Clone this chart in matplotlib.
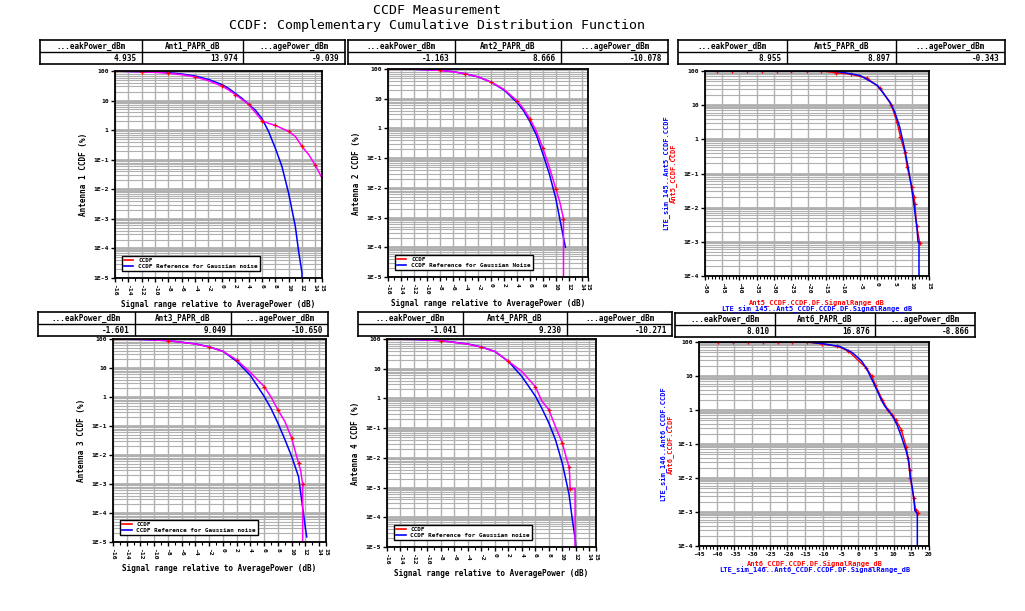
import numpy as np
import matplotlib
matplotlib.use('Agg')
import matplotlib.pyplot as plt
from matplotlib.lines import Line2D
from matplotlib.ticker import NullFormatter, FixedLocator

# ============================================================
# data (x in dB, y in %)
# ============================================================
# Antenna 1
ref1_x = [-16, -14, -12, -10, -8, -6, -4, -2, 0, 1, 2, 3, 4, 5, 6, 7, 7.5, 8, 9, 10, 11, 11.5, 12, 12]
ref1_y = [99.5, 97, 95, 92, 88, 79, 68, 52, 35, 26, 17.6, 12, 7.5, 4.8, 2.5, 0.9, 0.47, 0.25, 0.059, 0.0074, 5.6e-4, 8e-5, 1.5e-5, 1e-5]
ccdf1_x = [-16, -14, -12, -10, -8, -6, -4, -2, 0, 1, 2, 3, 4, 5, 6, 7, 8, 9, 10, 11, 12, 13, 14, 15]
ccdf1_y = [99, 97, 94, 90, 84, 75, 63, 47, 31, 23, 16, 11, 7.5, 4.0, 2.1, 1.7, 1.45, 1.15, 0.9, 0.62, 0.28, 0.15, 0.065, 0.024]

# Antenna 2
ref2_x = [-16, -12, -8, -6, -4, -2, 0, 2, 4, 5, 6, 7, 8, 9, 10, 11, 11.5]
ref2_y = [99.8, 98, 90, 82, 69, 54, 36, 19.5, 7.5, 4.0, 1.7, 0.6, 0.14, 0.03, 0.0045, 3.5e-4, 1e-4]
ccdf2_x = [-16, -12, -8, -6, -4, -2, 0, 2, 4, 5, 6, 7, 8, 9, 10, 10.6, 11.2, 11.2]
ccdf2_y = [99.8, 98, 90, 81, 69, 54, 36, 20.5, 8.5, 4.6, 2.1, 0.8, 0.22, 0.05, 0.0095, 0.0035, 0.00093, 1e-5]

# Antenna 3
ref4_x = [-16, -12, -8, -4, -2, 0, 2, 4, 6, 7, 8, 9, 10, 11, 12, 12.2]
ref4_y = [99.5, 97, 88, 68, 54, 37.6, 17, 5.5, 1.05, 0.4, 0.126, 0.035, 0.009, 0.0018, 3e-5, 1.5e-5]
ccdf4_x = [-16, -12, -8, -4, -2, 0, 2, 4, 6, 7, 8, 9, 10, 10.5, 11, 11.3, 11.6, 11.6]
ccdf4_y = [99.5, 97, 88, 67, 53, 37.6, 19, 7, 2.3, 1.0, 0.36, 0.145, 0.039, 0.014, 0.0053, 0.003, 0.001, 1e-5]

# Antenna 4
ref5_x = [-16, -12, -8, -4, -2, 0, 2, 4, 6, 7, 8, 9, 10, 11, 11.5, 11.9, 12]
ref5_y = [99.5, 97, 88, 68, 54, 38, 17.8, 5.5, 1.2, 0.45, 0.15, 0.04, 0.0066, 6e-4, 8e-5, 2e-5, 1e-5]
ccdf5_x = [-16, -12, -8, -4, -2, 0, 2, 4, 6, 7, 8, 9, 10, 10.6, 11, 11.1, 11.15, 11.9, 11.9]
ccdf5_y = [99.5, 97, 88, 67, 53, 38, 17.8, 8.1, 2.5, 0.8, 0.42, 0.11, 0.032, 0.01, 0.005, 0.0026, 0.00093, 0.00093, 1e-5]

# Antenna 5 (simulation vs measurement)
sim3_x = [-50, -14, -12, -10, -5, 0, 3.6, 5, 6.5, 8, 8.9, 9.9, 10.6, 11.2, 11.5, 11.8, 12.1, 12.1]
sim3_y = [100, 100, 97, 91, 74, 38, 12.6, 6.5, 2.3, 0.48, 0.16, 0.041, 0.013, 0.0043, 0.0028, 0.001, 0.001, 1e-4]
meas3_x = [-46.6, -42.3, -37.9, -33.6, -29.2, -24.9, -20.5, -16.2, -12.0, -7.5, -2.9, 0.9, 4.1, 5.7, 6.7, 7.97, 8.7, 10.1, 10.7, 10.9, 11.4, 12.3]
meas3_y = [100, 100, 100, 100, 100, 100, 100, 100, 89, 80, 61, 31, 10, 3.2, 1.19, 0.43, 0.15, 0.039, 0.02, 0.0126, 0.003, 0.00095]

# Antenna 6 (simulation vs measurement)
sim6_x = [-45, -14.2, -10, -5.2, -1.7, 0.9, 2.3, 4.6, 6.5, 7.5, 8.4, 9.8, 11.0, 12.2, 13.6, 14.3, 14.7, 15.3, 15.8, 16.0, 16.7, 16.7]
sim6_y = [100, 100, 89, 74, 49, 28, 17, 5.5, 2.0, 1.3, 1.0, 0.64, 0.36, 0.166, 0.06, 0.03, 0.012, 0.005, 0.002, 0.0011, 0.0009, 1e-4]
meas6_x = [-39.6, -35.4, -31.2, -26.9, -22.7, -18.6, -14.4, -10.1, -5.9, -2.9, 2.3, 3.9, 4.8, 6.8, 8.4, 9.6, 10.6, 12.2, 13.6, 14.1, 14.5, 14.7, 15.7, 16.2, 16.9]
meas6_y = [100, 100, 100, 100, 100, 100, 100, 87, 74.5, 55.6, 17, 9.7, 5.5, 2.0, 1.0, 0.72, 0.51, 0.26, 0.079, 0.038, 0.017, 0.01, 0.0026, 0.00114, 0.00091]

# tables
tab_headers = [
    ['...eakPower_dBm', 'Ant1_PAPR_dB', '...agePower_dBm'],
    ['...eakPower_dBm', 'Ant2_PAPR_dB', '...agePower_dBm'],
    ['...eakPower_dBm', 'Ant5_PAPR_dB', '...agePower_dBm'],
    ['...eakPower_dBm', 'Ant3_PAPR_dB', '...agePower_dBm'],
    ['...eakPower_dBm', 'Ant4_PAPR_dB', '...agePower_dBm'],
    ['...eakPower_dBm', 'Ant6_PAPR_dB', '...agePower_dBm'],
]
tab_values = [
    ['4.935', '13.974', '-9.039'],
    ['-1.163', '8.666', '-10.078'],
    ['8.955', '8.897', '-0.343'],
    ['-1.601', '9.049', '-10.650'],
    ['-1.041', '9.230', '-10.271'],
    ['8.010', '16.876', '-8.866'],
]

# ============================================================
# layout helpers (pixel boxes in a 1025x611 figure)
# ============================================================
W, H = 1025, 611
FONT = 'DejaVu Sans Mono'
GRID = '#b0b0b0'
MAG = '#ff00ff'
RED = '#ff0000'
BLUE = '#0000ff'

fig = plt.figure(figsize=(W / 100, H / 100), dpi=100)


def fbox(l, t, r, b):
    return [l / W, 1 - b / H, (r - l) / W, (b - t) / H]


def draw_table(box, headers, values):
    tax = fig.add_axes(fbox(*box))
    tax.set_xlim(0, 3)
    tax.set_ylim(0, 2)
    tax.set_xticks([])
    tax.set_yticks([])
    for s in tax.spines.values():
        s.set_linewidth(1.2)
    tax.axhline(1, color='black', lw=1)
    for i in (1, 2):
        tax.axvline(i, color='black', lw=1)
    for i, (h, v) in enumerate(zip(headers, values)):
        tax.text(i + 0.5, 1.45, h, ha='center', va='center', fontsize=5.5,
                 family=FONT, weight='bold')
        tax.text(i + 0.95, 0.45, v, ha='right', va='center', fontsize=5.5,
                 family=FONT, weight='bold')


def decade_labels(lo):
    labs = []
    for e in range(lo, 3):
        if e == 2:
            labs.append('100')
        elif e == 1:
            labs.append('10')
        elif e == 0:
            labs.append('1')
        else:
            labs.append('1E%d' % e)
    return labs


def setup_axes(box, xlim, xticks, ylo, rotate=True):
    ax = fig.add_axes(fbox(*box))
    ax.set_yscale('log')
    ax.set_xlim(*xlim)
    ax.set_ylim(10.0 ** ylo, 100)
    dec = [10.0 ** e for e in range(ylo, 3)]
    ax.yaxis.set_major_locator(FixedLocator(dec))
    ax.set_yticklabels(decade_labels(ylo))
    minors = [m * 10.0 ** e for e in range(ylo, 2) for m in range(2, 10)]
    ax.yaxis.set_minor_locator(FixedLocator(minors))
    ax.yaxis.set_minor_formatter(NullFormatter())
    ax.set_xticks(xticks)
    ax.set_xticklabels([str(t) for t in xticks], rotation=-90 if rotate else 0)
    ax.set_xticks(np.arange(xlim[0], xlim[1] + 1, 1), minor=True)
    ax.grid(True, which='major', axis='y', color=GRID, lw=2.0)
    ax.grid(True, which='minor', axis='y', color=GRID, lw=0.8)
    ax.grid(True, which='major', axis='x', color=GRID, lw=1.0)
    ax.set_axisbelow(True)
    for s in ax.spines.values():
        s.set_linewidth(1.3)
    ax.tick_params(which='major', length=3, width=1, labelsize=4.6, pad=1.5)
    ax.tick_params(which='minor', length=2, width=0.8)
    ax.tick_params(axis='y', which='minor', length=0)
    for lab in ax.get_xticklabels() + ax.get_yticklabels():
        lab.set_family(FONT)
        lab.set_weight('bold')
    return ax


def ccdf_panel(box, ref_x, ref_y, c_x, c_y, ylabel, legend_ref):
    ticks = list(range(-16, 15, 2)) + [15]
    ax = setup_axes(box, (-16, 15), ticks, -5)
    ax.plot(ref_x, ref_y, color=BLUE, lw=1.1)
    ax.plot(c_x, c_y, color=MAG, lw=1.1)
    ax.plot(c_x, c_y, '+', color=RED, ms=3.5, mew=0.9, markevery=2)
    ax.set_xlabel('Signal range relative to AveragePower (dB)', fontsize=5.5,
                  family=FONT, weight='bold', labelpad=3)
    ax.set_ylabel(ylabel, fontsize=5.5, family=FONT, weight='bold', labelpad=4)
    handles = [Line2D([], [], color=RED, lw=1.2), Line2D([], [], color=BLUE, lw=1.2)]
    leg = ax.legend(handles, ['CCDF', legend_ref], loc='lower left',
                    bbox_to_anchor=(0.02, 0.02), fancybox=False, edgecolor='black',
                    framealpha=1, handlelength=1.6, borderpad=0.3, labelspacing=0.2,
                    prop={'family': FONT, 'size': 4.3, 'weight': 'bold'})
    leg.get_frame().set_linewidth(1.0)
    return ax


def sim_panel(box, xlim, sim_x, sim_y, m_x, m_y, rotate, ant, sim_name, ylab_pos, xlab_pos):
    ticks = list(range(xlim[0], xlim[1] + 1, 5))
    ax = setup_axes(box, xlim, ticks, -4, rotate=rotate)
    ax.plot(m_x, m_y, color=RED, lw=1.0)
    ax.plot(m_x, m_y, '+', color=RED, ms=3.5, mew=0.9)
    ax.plot(sim_x, sim_y, color=BLUE, lw=1.1)
    yx, yy = ylab_pos
    fig.text(yx / W, 1 - yy / H, sim_name + '..' + ant + '_CCDF.CCDF', color=BLUE,
             rotation=90, ha='center', va='center', fontsize=5, family=FONT, weight='bold')
    fig.text((yx + 7) / W, 1 - yy / H, ant + '_CCDF.CCDF', color=RED,
             rotation=90, ha='center', va='center', fontsize=5, family=FONT, weight='bold')
    xx, xy = xlab_pos
    fig.text(xx / W, 1 - xy / H, ant + '_CCDF.CCDF.DF.SignalRange_dB', color=RED,
             ha='center', va='center', fontsize=5, family=FONT, weight='bold')
    fig.text(xx / W, 1 - (xy + 6) / H, sim_name + '..' + ant + '_CCDF.CCDF.DF.SignalRange_dB',
             color=BLUE, ha='center', va='center', fontsize=5, family=FONT, weight='bold')
    return ax


# ============================================================
# title
# ============================================================
fig.text(437 / W, 1 - 11 / H, 'CCDF Measurement', ha='center', va='center',
         fontsize=9.5, family=FONT)
fig.text(437 / W, 1 - 25 / H, 'CCDF: Complementary Cumulative Distribution Function',
         ha='center', va='center', fontsize=9.5, family=FONT)

# ============================================================
# tables
# ============================================================
table_boxes = [(40, 40, 345, 64), (348, 40, 668, 64), (678, 40, 1005, 64),
               (38, 312, 328, 336), (358, 312, 672, 336), (675, 313, 975, 337)]
for box, hd, vl in zip(table_boxes, tab_headers, tab_values):
    draw_table(box, hd, vl)

# ============================================================
# panels
# ============================================================
ccdf_panel((115, 71, 322, 278), ref1_x, ref1_y, ccdf1_x, ccdf1_y,
           'Antenna 1 CCDF (%)', 'CCDF Reference for Gaussian noise')
ccdf_panel((388, 69, 588, 277), ref2_x, ref2_y, ccdf2_x, ccdf2_y,
           'Antenna 2 CCDF (%)', 'CCDF Reference for Gaussian Noise')
ccdf_panel((113, 339, 326, 542), ref4_x, ref4_y, ccdf4_x, ccdf4_y,
           'Antenna 3 CCDF (%)', 'CCDF Reference for Gaussian noise')
ccdf_panel((387, 339, 596, 547), ref5_x, ref5_y, ccdf5_x, ccdf5_y,
           'Antenna 4 CCDF (%)', 'CCDF Reference for Gaussian noise')

sim_panel((705, 71, 929, 276), (-50, 15), sim3_x, sim3_y, meas3_x, meas3_y,
          True, 'Ant5', 'LTE_sim_145', (666, 173), (817, 303))
sim_panel((699, 342, 929, 546), (-45, 20), sim6_x, sim6_y, meas6_x, meas6_y,
          False, 'Ant6', 'LTE_sim_146', (663, 444), (815, 564))

plt.savefig('out.png', dpi=100)
